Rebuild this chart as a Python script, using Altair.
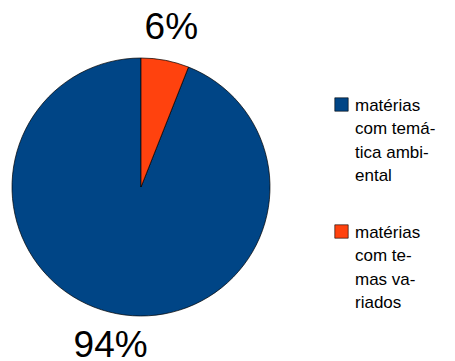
import altair as alt
import pandas as pd

categorias = ["matérias com temática ambiental", "matérias com temas variados"]
valores = [94, 6]
rotulos = ["94%", "6%"]
ordem = [1, 0]
cores = ["#004586", "#ff420e"]
linhas_legenda = [
    ["matérias", "com temá-", "tica ambi-", "ental"],
    ["matérias", "com te-", "mas va-", "riados"],
]

df = pd.DataFrame({"categoria": categorias, "valor": valores, "rotulo": rotulos, "ordem": ordem})

def arr(lines):
    return "[" + ",".join("'" + l + "'" for l in lines) + "]"

label_expr = "datum.label == '%s' ? %s : %s" % (categorias[0], arr(linhas_legenda[0]), arr(linhas_legenda[1]))

base = alt.Chart(df).encode(
    theta=alt.Theta("valor:Q", stack=True),
    order=alt.Order("ordem:Q", sort="ascending"),
)

pie = base.mark_arc(outerRadius=129, stroke="black", strokeWidth=0.7).encode(
    color=alt.Color(
        "categoria:N",
        scale=alt.Scale(domain=categorias, range=cores),
        legend=alt.Legend(
            title=None,
            orient="none",
            legendX=325,
            legendY=86,
            symbolType="square",
            symbolSize=180,
            symbolStrokeColor="black",
            symbolStrokeWidth=0.6,
            labelFont="Liberation Sans",
            labelFontSize=17,
            labelColor="black",
            labelBaseline="top",
            labelLimit=200,
            labelExpr=label_expr,
            rowPadding=39,
            labelOffset=5,
        ),
    )
)

text = base.mark_text(radius=162, font="Liberation Sans", fontSize=37, color="black").encode(
    text="rotulo:N"
)

chart = (pie + text).properties(width=266, height=354, padding=0).configure_view(stroke=None)

chart.save(
    "out.html",
    embed_options={
        "renderer": "svg",
        "actions": False,
        "patch": [
            {"op": "add", "path": "/legends/0/encode/labels/update/lineHeight", "value": {"value": 23.5}},
            {"op": "add", "path": "/legends/0/encode/labels/update/dy", "value": {"value": -7}},
        ],
    },
)
